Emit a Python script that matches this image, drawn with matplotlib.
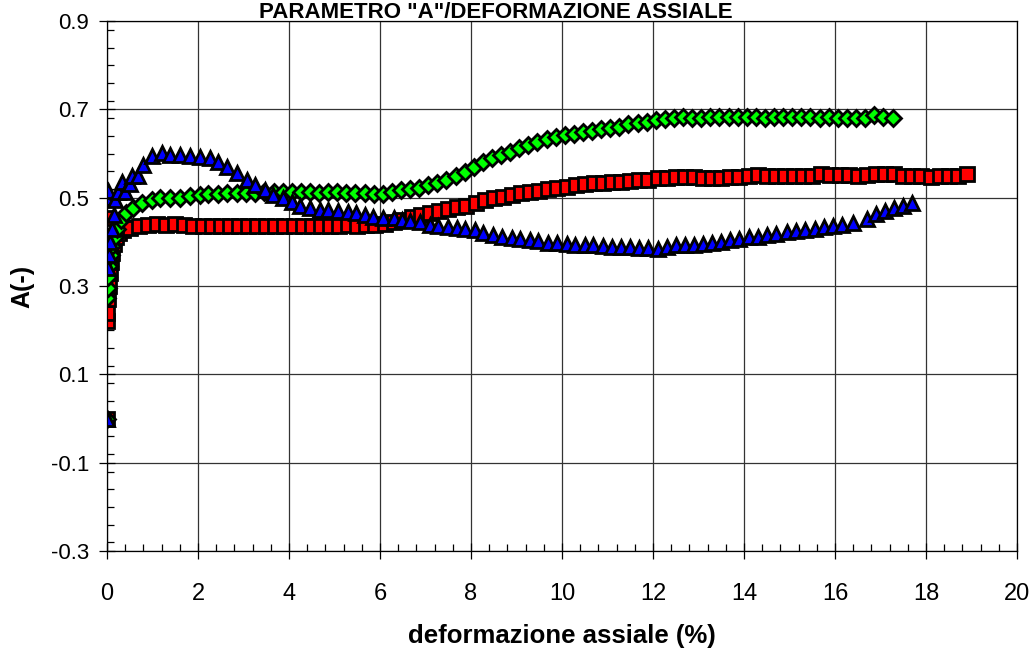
import numpy as np
import matplotlib
matplotlib.use("Agg")
import matplotlib.pyplot as plt
from matplotlib.ticker import MultipleLocator

plt.rcParams['font.family'] = ['Liberation Sans', 'DejaVu Sans']

# serie rossa (quadrati)
red_x = [0, 0, 0.0, 0.0, 0.02, 0.04, 0.06, 0.08, 0.11, 0.15, 0.2, 0.27, 0.36, 0.5,
         0.7, 0.9, 1.1, 1.3, 1.5, 1.7, 1.9, 2.1, 2.3, 2.5, 2.7, 2.9, 3.1, 3.3, 3.5,
         3.7, 3.9, 4.1, 4.3, 4.5, 4.7, 4.9, 5.1, 5.3, 5.5, 5.7, 5.9, 6.1, 6.3, 6.5,
         6.7, 6.9, 7.1, 7.3, 7.5, 7.7, 7.9, 8.1, 8.3, 8.5, 8.7, 8.9, 9.1, 9.3, 9.5,
         9.7, 9.9, 10.1, 10.3, 10.5, 10.7, 10.9, 11.1, 11.3, 11.5, 11.7, 11.9, 12.1,
         12.3, 12.5, 12.7, 12.9, 13.1, 13.3, 13.5, 13.7, 13.9, 14.1, 14.3, 14.5,
         14.7, 14.9, 15.1, 15.3, 15.5, 15.7, 15.9, 16.1, 16.3, 16.5, 16.7, 16.9,
         17.1, 17.3, 17.5, 17.7, 17.9, 18.1, 18.3, 18.5, 18.7, 18.9]
red_y = [0.0, 0.455, 0.22, 0.24, 0.27, 0.30, 0.33, 0.355, 0.375, 0.395, 0.41, 0.42,
         0.427, 0.432, 0.436, 0.438, 0.44, 0.439, 0.44, 0.438, 0.437, 0.436, 0.437,
         0.436, 0.435, 0.436, 0.436, 0.435, 0.436, 0.436, 0.437, 0.436, 0.437, 0.437,
         0.436, 0.437, 0.437, 0.438, 0.437, 0.438, 0.438, 0.441, 0.446, 0.45, 0.456,
         0.461, 0.466, 0.47, 0.474, 0.478, 0.482, 0.489, 0.495, 0.499, 0.502, 0.506,
         0.51, 0.512, 0.515, 0.52, 0.522, 0.525, 0.528, 0.53, 0.533, 0.534, 0.536,
         0.536, 0.538, 0.539, 0.541, 0.545, 0.545, 0.546, 0.547, 0.546, 0.545, 0.545,
         0.545, 0.546, 0.547, 0.548, 0.551, 0.549, 0.549, 0.548, 0.548, 0.549, 0.55,
         0.554, 0.551, 0.551, 0.552, 0.549, 0.552, 0.553, 0.554, 0.553, 0.55, 0.549,
         0.548, 0.547, 0.548, 0.549, 0.55, 0.553]

# serie verde (rombi)
green_x = [0, 0.0, 0.02, 0.03, 0.05, 0.08, 0.12, 0.17, 0.22, 0.3, 0.42, 0.57, 0.77,
           0.99, 1.17, 1.39, 1.6, 1.82, 2.04, 2.22, 2.44, 2.64, 2.86, 3.06, 3.26,
           3.46, 3.66, 3.86, 4.06, 4.26, 4.46, 4.66, 4.86, 5.06, 5.26, 5.46, 5.66,
           5.86, 6.06, 6.26, 6.46, 6.66, 6.86, 7.06, 7.26, 7.46, 7.66, 7.86, 8.06,
           8.26, 8.46, 8.66, 8.86, 9.06, 9.26, 9.46, 9.66, 9.86, 10.06, 10.26, 10.46,
           10.66, 10.86, 11.06, 11.26, 11.46, 11.66, 11.86, 12.06, 12.26, 12.46,
           12.66, 12.86, 13.06, 13.26, 13.46, 13.66, 13.86, 14.06, 14.26, 14.46,
           14.66, 14.86, 15.06, 15.26, 15.46, 15.66, 15.86, 16.06, 16.26, 16.46,
           16.66, 16.86, 17.06, 17.27]
green_y = [0.0, 0.273, 0.295, 0.32, 0.345, 0.37, 0.39, 0.41, 0.43, 0.45, 0.465, 0.477,
           0.488, 0.495, 0.499, 0.5, 0.5, 0.504, 0.506, 0.508, 0.508, 0.51, 0.51,
           0.511, 0.511, 0.512, 0.512, 0.513, 0.513, 0.512, 0.512, 0.511, 0.512,
           0.512, 0.511, 0.511, 0.51, 0.509, 0.508, 0.512, 0.517, 0.52, 0.523, 0.528,
           0.533, 0.54, 0.549, 0.559, 0.57, 0.58, 0.59, 0.597, 0.604, 0.612, 0.619,
           0.626, 0.632, 0.637, 0.641, 0.645, 0.649, 0.652, 0.655, 0.657, 0.66, 0.666,
           0.669, 0.672, 0.675, 0.678, 0.681, 0.683, 0.68, 0.68, 0.682, 0.683, 0.682,
           0.683, 0.683, 0.683, 0.681, 0.682, 0.683, 0.683, 0.682, 0.683, 0.681,
           0.682, 0.681, 0.68, 0.681, 0.681, 0.687, 0.683, 0.68]

# serie blu (triangoli)
blue_x = [0, 0.02, 0.04, 0.07, 0.1, 0.15, 0.0, 0.03, 0.17, 0.24, 0.33, 0.4, 0.5, 0.55,
          0.68, 0.79, 0.99, 1.2, 1.38, 1.6, 1.82, 2.04, 2.26, 2.44, 2.64, 2.86, 3.08,
          3.25, 3.47, 3.65, 3.87, 4.07, 4.24, 4.46, 4.68, 4.86, 5.08, 5.3, 5.48,
          5.67, 5.85, 6.07, 6.3, 6.48, 6.66, 6.88, 7.1, 7.27, 7.5, 7.7, 7.87, 8.09,
          8.27, 8.48, 8.68, 8.9, 9.08, 9.3, 9.47, 9.7, 9.89, 10.1, 10.29, 10.5,
          10.68, 10.9, 11.1, 11.3, 11.5, 11.7, 11.9, 12.1, 12.3, 12.5, 12.7, 12.9,
          13.1, 13.3, 13.5, 13.7, 13.9, 14.1, 14.3, 14.5, 14.7, 14.95, 15.15, 15.35,
          15.55, 15.75, 15.95, 16.15, 16.4, 16.7, 16.9, 17.1, 17.3, 17.5, 17.7]
blue_y = [0.0, 0.34, 0.37, 0.40, 0.43, 0.46, 0.50, 0.515, 0.495, 0.513, 0.535, 0.513,
          0.53, 0.55, 0.55, 0.574, 0.594, 0.602, 0.597, 0.596, 0.595, 0.592, 0.59,
          0.58, 0.57, 0.556, 0.54, 0.529, 0.517, 0.505, 0.499, 0.49, 0.482, 0.477,
          0.473, 0.472, 0.469, 0.468, 0.466, 0.461, 0.457, 0.455, 0.454, 0.449,
          0.447, 0.445, 0.439, 0.435, 0.433, 0.431, 0.429, 0.426, 0.42, 0.415, 0.411,
          0.409, 0.406, 0.404, 0.401, 0.398, 0.397, 0.395, 0.394, 0.393, 0.392,
          0.391, 0.389, 0.388, 0.388, 0.387, 0.386, 0.383, 0.388, 0.392, 0.393,
          0.394, 0.395, 0.397, 0.4, 0.404, 0.407, 0.41, 0.412, 0.415, 0.418, 0.422,
          0.425, 0.427, 0.43, 0.434, 0.436, 0.438, 0.443, 0.452, 0.462, 0.47, 0.477,
          0.482, 0.488]

x_ticks = list(range(0, 21, 2))
y_ticks = [-0.3, -0.1, 0.1, 0.3, 0.5, 0.7, 0.9]

fig = plt.figure(figsize=(10.33, 6.51), dpi=100)
ax = fig.add_axes([0.1036, 0.1536, 0.8809, 0.8141])

ax.plot(red_x, red_y, linestyle='none', marker='s', markersize=9.5,
        markerfacecolor='#ff0000', markeredgecolor='black', markeredgewidth=2)
ax.plot(green_x, green_y, linestyle='none', marker='D', markersize=8,
        markerfacecolor='#00ff00', markeredgecolor='black', markeredgewidth=2)
ax.plot(blue_x, blue_y, linestyle='none', marker='^', markersize=10.5,
        markerfacecolor='#0000ff', markeredgecolor='black', markeredgewidth=2)

ax.set_xlim(0, 20)
ax.set_ylim(-0.3, 0.9)
ax.set_xticks(x_ticks)
ax.set_xticklabels([str(v) for v in x_ticks], fontsize=17)
ax.set_yticks(y_ticks)
ax.set_yticklabels([f'{v:g}' for v in y_ticks], fontsize=16)
ax.xaxis.set_minor_locator(MultipleLocator(0.4))
ax.yaxis.set_minor_locator(MultipleLocator(0.04))

ax.grid(True, which='major', color='#333333', linewidth=0.9)
ax.set_axisbelow(True)
ax.tick_params(which='major', direction='inout', length=12, width=0.9, colors='black')
ax.tick_params(axis='x', which='major', pad=17)
ax.tick_params(axis='y', which='major', pad=7)
ax.tick_params(which='minor', direction='in', length=5, width=0.9)
for s in ax.spines.values():
    s.set_color('black')
    s.set_linewidth(0.9)

ax.set_xlabel('deformazione assiale (%)', fontsize=18.5, fontweight='bold', labelpad=14)
ax.set_ylabel('A(-)', fontsize=18, fontweight='bold', labelpad=12)
fig.text(0.48, 0.973, 'PARAMETRO "A"/DEFORMAZIONE ASSIALE', ha='center', va='baseline',
         fontsize=16, fontweight='bold')

fig.savefig('out.png', dpi=100)
